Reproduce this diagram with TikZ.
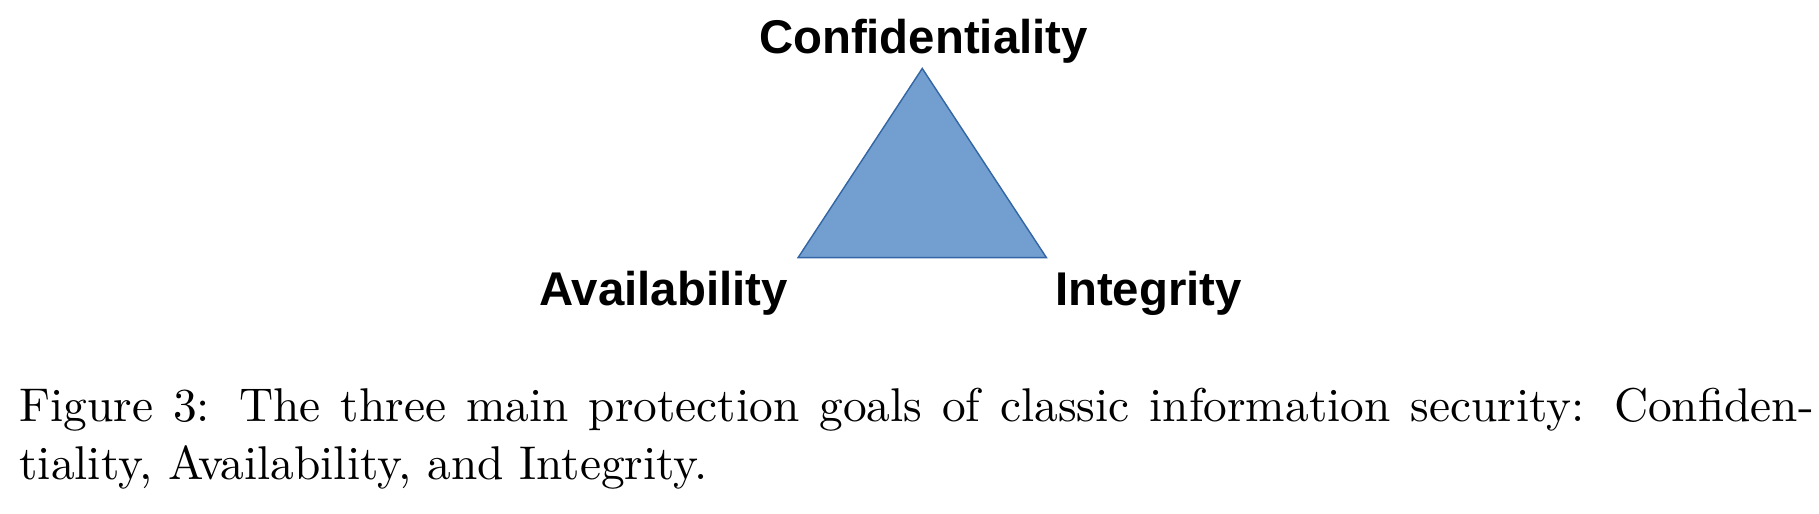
\documentclass[tikz,border=0pt]{standalone}
\usepackage{fontspec}
\newfontfamily\lab{Liberation Sans}
\definecolor{trifill}{HTML}{729FCF}
\definecolor{triline}{HTML}{3465A4}
\begin{document}
\begin{tikzpicture}[x=0.245pt,y=-0.245pt,
  goal/.style={font=\lab\bfseries\fontsize{10}{12}\selectfont, inner sep=0pt, anchor=base}]
\useasboundingbox (0,0) rectangle (1568,443);
\coordinate (apex) at (795,59);
\coordinate (bl) at (688,222);
\coordinate (br) at (902,222);
\filldraw[fill=trifill, draw=triline, line width=0.3pt] (apex) -- (br) -- (bl) -- cycle;
\node[goal] (conf) at (796,46) {Confidentiality};
\node[goal] (avail) at (572,263) {Availability};
\node[goal] (integ) at (990,263) {Integrity};
\node[inner sep=0pt, anchor=base west] (cap1) at (16,363) {\fontsize{10}{12}\selectfont\makebox[379pt][s]{Figure 3: The three main protection goals of classic information security: Confiden-}};
\node[inner sep=0pt, anchor=base west] (cap2) at (16,413) {\fontsize{10}{12}\selectfont tiality, Availability, and Integrity.};
\end{tikzpicture}
\end{document}
